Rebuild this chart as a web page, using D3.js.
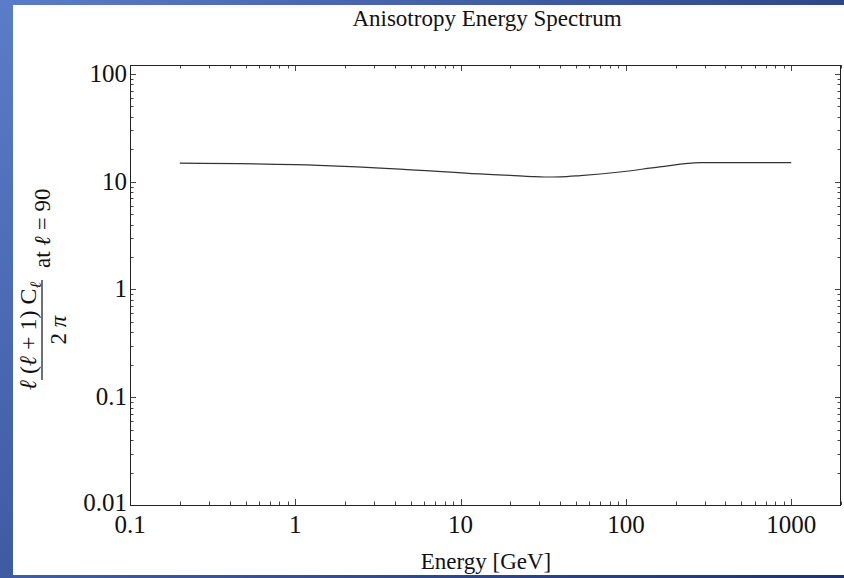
<!DOCTYPE html>
<html>
<head>
<meta charset="utf-8">
<script src="https://cdn.jsdelivr.net/npm/d3@7"></script>
<style>
html,body{margin:0;padding:0;background:#fff;}
svg{display:block;}
text{font-family:"Liberation Serif","DejaVu Serif",serif;fill:#111;}
</style>
</head>
<body>
<svg id="chart" width="844" height="578"></svg>
<script>
// ---- data ----
const energy = [0.2, 1, 4.3, 13, 20, 27, 32, 40, 53, 92, 160, 280, 1000];
const spectrum = [14.9, 14.4, 13.1, 11.8, 11.45, 11.15, 11.05, 11.1, 11.4, 12.3, 13.7, 15.0, 15.0];
const xTickValues = [0.1, 1, 10, 100, 1000];
const xTickLabels = ["0.1", "1", "10", "100", "1000"];
const yTickValues = [0.01, 0.1, 1, 10, 100];
const yTickLabels = ["0.01", "0.1", "1", "10", "100"];
const titleText = "Anisotropy Energy Spectrum";
const xLabelText = "Energy [GeV]";

const W = 844, H = 578;
const svg = d3.select("#chart");
const defs = svg.append("defs");

// background frame (slide)
const gl = defs.append("linearGradient").attr("id","gLeft").attr("x1",0).attr("y1",0).attr("x2",0).attr("y2",1);
gl.append("stop").attr("offset","0%").attr("stop-color","#5b7cc8");
gl.append("stop").attr("offset","100%").attr("stop-color","#3e5ba2");
const gt = defs.append("linearGradient").attr("id","gTop").attr("x1",0).attr("y1",0).attr("x2",1).attr("y2",0);
gt.append("stop").attr("offset","0%").attr("stop-color","#5b7cc8");
gt.append("stop").attr("offset","100%").attr("stop-color","#2e4789");
const gb = defs.append("linearGradient").attr("id","gBot").attr("x1",0).attr("y1",0).attr("x2",1).attr("y2",0);
gb.append("stop").attr("offset","0%").attr("stop-color","#3f5ea6");
gb.append("stop").attr("offset","100%").attr("stop-color","#1f3373");

svg.append("rect").attr("x",0).attr("y",0).attr("width",W).attr("height",H).attr("fill","#fff");
svg.append("rect").attr("x",0).attr("y",0).attr("width",W).attr("height",5).attr("fill","url(#gTop)");
svg.append("rect").attr("x",0).attr("y",575).attr("width",W).attr("height",3).attr("fill","url(#gBot)");
svg.append("rect").attr("x",0).attr("y",0).attr("width",13).attr("height",H).attr("fill","url(#gLeft)");

// plot area
const L = 130, R = 841, T = 65, B = 505;
const x = d3.scaleLog().domain([0.1, 2000]).range([L, R]);
const y = d3.scaleLog().domain([0.01, 121]).range([B, T]);

// minor tick values
const xMinor = [];
for (let d = 0.1; d < 2000; d *= 10) for (let k = 2; k <= 9; k++) { const v = d * k; if (v <= 2000) xMinor.push(v); }
const yMinor = [];
for (let d = 0.01; d < 121; d *= 10) for (let k = 2; k <= 9; k++) { const v = d * k; if (v <= 121) yMinor.push(v); }

const majLen = 6, minLen = 3.5;
const tickStroke = "#444";

const ticks = svg.append("g").attr("stroke", tickStroke).attr("stroke-width", 1);
xTickValues.forEach(v => {
  const px = Math.round(x(v)) + 0.5;
  ticks.append("line").attr("x1",px).attr("x2",px).attr("y1",B).attr("y2",B-majLen);
  ticks.append("line").attr("x1",px).attr("x2",px).attr("y1",T).attr("y2",T+majLen);
});
xMinor.forEach(v => {
  const px = Math.round(x(v)) + 0.5;
  ticks.append("line").attr("x1",px).attr("x2",px).attr("y1",B).attr("y2",B-minLen);
  ticks.append("line").attr("x1",px).attr("x2",px).attr("y1",T).attr("y2",T+minLen);
});
yTickValues.forEach(v => {
  const py = Math.round(y(v)) + 0.5;
  ticks.append("line").attr("x1",L).attr("x2",L+majLen).attr("y1",py).attr("y2",py);
  ticks.append("line").attr("x1",R).attr("x2",R-majLen).attr("y1",py).attr("y2",py);
});
yMinor.forEach(v => {
  const py = Math.round(y(v)) + 0.5;
  ticks.append("line").attr("x1",L).attr("x2",L+minLen).attr("y1",py).attr("y2",py);
  ticks.append("line").attr("x1",R).attr("x2",R-minLen).attr("y1",py).attr("y2",py);
});

// frame
svg.append("rect").attr("x",L+0.5).attr("y",T+0.5).attr("width",R-L-1).attr("height",B-T)
  .attr("fill","none").attr("stroke","#222").attr("stroke-width",1);

// tick labels
const tickFont = 25;
svg.append("g").selectAll("text").data(xTickValues).join("text")
  .attr("x", d => x(d)).attr("y", B + 28)
  .attr("text-anchor","middle").attr("font-size", tickFont)
  .text((d,i) => xTickLabels[i]);
svg.append("g").selectAll("text").data(yTickValues).join("text")
  .attr("x", L - 3).attr("y", d => y(d) + (d === 0.01 ? 6 : 8))
  .attr("text-anchor","end").attr("font-size", tickFont)
  .text((d,i) => yTickLabels[i]);

// curve
const line = d3.line().x(d => x(d[0])).y(d => y(d[1])).curve(d3.curveMonotoneX);
svg.append("path").datum(energy.map((e,i) => [e, spectrum[i]]))
  .attr("d", line).attr("fill","none").attr("stroke","#333").attr("stroke-width",1.2);

// title & x label
svg.append("text").attr("x", 487).attr("y", 26).attr("text-anchor","middle").attr("font-size",23).text(titleText);
svg.append("text").attr("x", 486).attr("y", 569).attr("text-anchor","middle").attr("font-size",23).text(xLabelText);

// y label (rotated fraction)
const yl = svg.append("g").attr("transform","translate(42,330) rotate(-90)");
const num = yl.append("text").attr("x",-6).attr("y",-6).attr("text-anchor","middle").attr("font-size",24);
num.append("tspan").attr("font-style","italic").text("ℓ");
num.append("tspan").text(" (");
num.append("tspan").attr("font-style","italic").text("ℓ");
num.append("tspan").text(" + 1) C");
num.append("tspan").attr("font-style","italic").attr("font-size",16).attr("dy",5).text("ℓ");
yl.append("line").attr("x1",-50).attr("x2",50).attr("y1",0).attr("y2",0).attr("stroke","#111").attr("stroke-width",1.2);
const den = yl.append("text").attr("x",0).attr("y",24).attr("text-anchor","middle").attr("font-size",23);
den.append("tspan").text("2 ");
den.append("tspan").attr("font-style","italic").text("π");
const at = yl.append("text").attr("x",62).attr("y",8).attr("font-size",23);
at.append("tspan").text("at ");
at.append("tspan").attr("font-style","italic").text("ℓ");
at.append("tspan").text(" = 90");
</script>
</body>
</html>
